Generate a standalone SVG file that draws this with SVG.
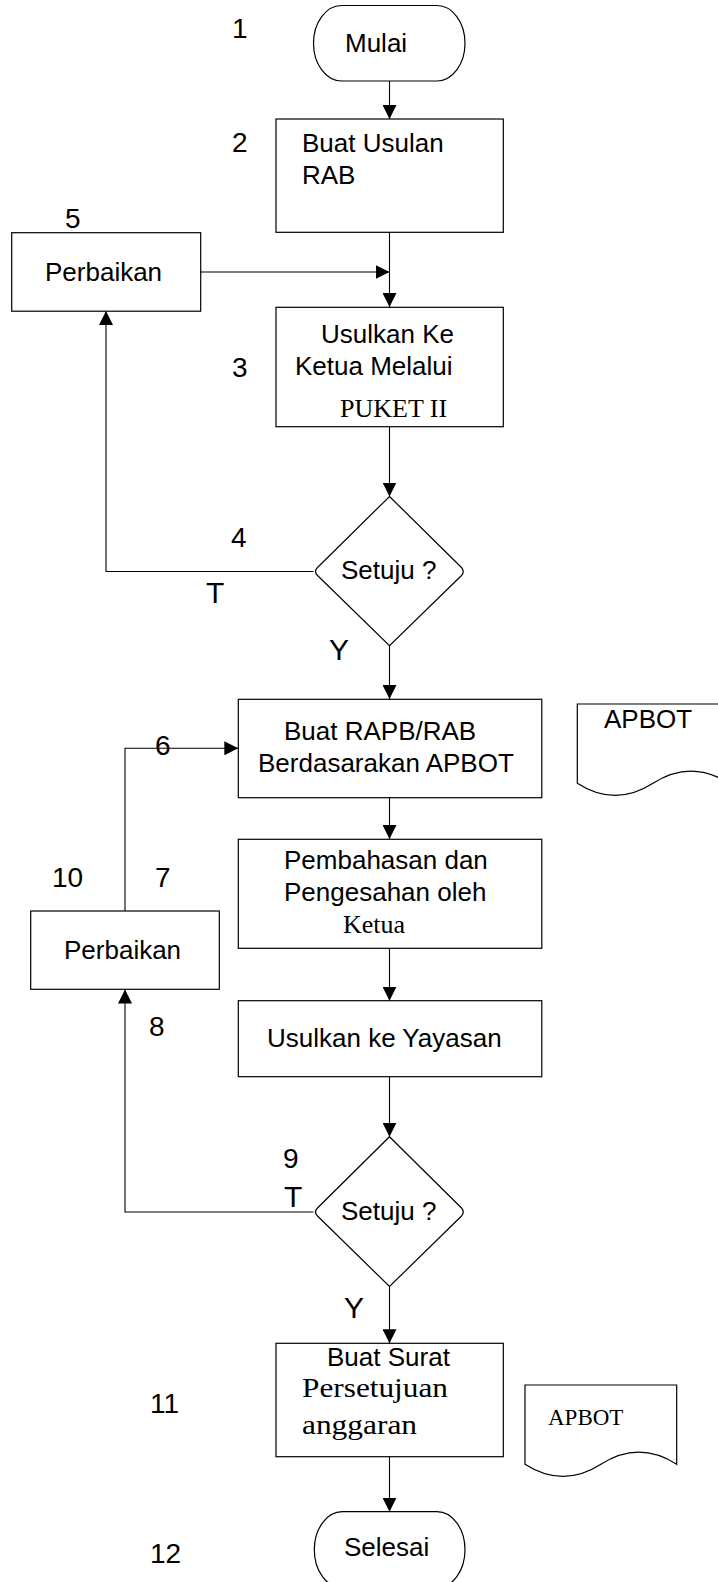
<svg xmlns="http://www.w3.org/2000/svg" width="718" height="1582" viewBox="0 0 718 1582">
<style>
.shape{fill:#fff;stroke:#000;stroke-width:1.2}
.line{fill:none;stroke:#000;stroke-width:1.1}
.t{font-family:"Liberation Sans",Arial,sans-serif;font-size:26px;fill:#000}
.s{font-family:"Liberation Serif","Times New Roman",serif;fill:#000}
.n{font-family:"Liberation Sans",Arial,sans-serif;font-size:28px;fill:#000}
.l{font-family:"Liberation Sans",Arial,sans-serif;font-size:30px;fill:#000}
</style>
<defs>
<marker id="arr" markerUnits="userSpaceOnUse" markerWidth="15" markerHeight="14" refX="14" refY="7" orient="auto">
<path d="M0,0 L14,7 L0,14 Z" fill="#000"/>
</marker>
</defs>
<rect width="718" height="1582" fill="#fff"/>

<g id="connectors">
<path class="line" d="M389.5,81 V119" marker-end="url(#arr)"/>
<path class="line" d="M389.5,232 V307" marker-end="url(#arr)"/>
<path class="line" d="M200.5,272 H389.5" marker-end="url(#arr)"/>
<path class="line" d="M389.5,427 V496.5" marker-end="url(#arr)"/>
<path class="line" d="M313.5,571.5 H106 V311" marker-end="url(#arr)"/>
<path class="line" d="M389.5,646 V699" marker-end="url(#arr)"/>
<path class="line" d="M389.5,798 V839" marker-end="url(#arr)"/>
<path class="line" d="M389.5,948 V1000.7" marker-end="url(#arr)"/>
<path class="line" d="M389.5,1077 V1136.7" marker-end="url(#arr)"/>
<path class="line" d="M313.5,1212 H125 V989.5" marker-end="url(#arr)"/>
<path class="line" d="M125,911 V748.3 H238.3" marker-end="url(#arr)"/>
<path class="line" d="M389.5,1286.5 V1343.3" marker-end="url(#arr)"/>
<path class="line" d="M389.5,1456.7 V1511.7" marker-end="url(#arr)"/>
</g>

<g id="n1">
<rect class="shape" x="313.5" y="5.5" width="151.5" height="75.5" rx="28" ry="37.75"/>
<text class="t" x="345" y="52">Mulai</text>
</g>
<g id="n2">
<rect class="shape" x="276" y="119" width="227.3" height="113.3"/>
<text class="t" x="302" y="152">Buat Usulan</text>
<text class="t" x="302" y="183.5">RAB</text>
</g>
<g id="n5">
<rect class="shape" x="11.7" y="232.7" width="189" height="78.5"/>
<text class="t" x="45" y="280.7">Perbaikan</text>
</g>
<g id="n3">
<rect class="shape" x="276" y="307.3" width="227.3" height="119.4"/>
<text class="t" x="321" y="343">Usulkan Ke</text>
<text class="t" x="295" y="375">Ketua Melalui</text>
<text class="s" x="340" y="416.7" font-size="26">PUKET II</text>
</g>
<g id="n4">
<path class="shape" d="M389.5,496.5 L461.5,567.5 Q465,571.5 461.5,575.5 L389.5,645.7 L317.5,575.5 Q313.5,571.5 317.5,567.5 Z"/>
<text class="t" x="341" y="579.3">Setuju ?</text>
</g>
<g id="n6">
<rect class="shape" x="238.3" y="699.3" width="303.5" height="98.4"/>
<text class="t" x="284" y="740">Buat RAPB/RAB</text>
<text class="t" x="258" y="771.7">Berdasarakan APBOT</text>
</g>
<g id="doc1">
<path class="shape" d="M577.3,704 H729 V783.3 Q691,759 653,783.3 Q615,807.6 577.3,783.3 Z"/>
<text class="t" x="604" y="728.3">APBOT</text>
</g>
<g id="n7">
<rect class="shape" x="238.3" y="839.3" width="303.5" height="109"/>
<text class="t" x="284" y="869.3">Pembahasan dan</text>
<text class="t" x="284" y="900.7">Pengesahan oleh</text>
<text class="s" x="343" y="932.7" font-size="26">Ketua</text>
</g>
<g id="n10">
<rect class="shape" x="30.7" y="911" width="188.6" height="78.3"/>
<text class="t" x="64" y="959.3">Perbaikan</text>
</g>
<g id="n8">
<rect class="shape" x="238.3" y="1000.7" width="303.5" height="76"/>
<text class="t" x="267" y="1046.7">Usulkan ke Yayasan</text>
</g>
<g id="n9">
<path class="shape" d="M389.5,1136.7 L461.5,1208 Q465,1212 461.5,1216 L389.5,1286.5 L317.5,1216 Q313.5,1212 317.5,1208 Z"/>
<text class="t" x="341" y="1220">Setuju ?</text>
</g>
<g id="n11">
<rect class="shape" x="276" y="1343.3" width="227.3" height="113.4"/>
<text class="t" x="327" y="1366">Buat Surat</text>
<text class="s" x="302" y="1396.7" font-size="28" textLength="146" lengthAdjust="spacingAndGlyphs">Persetujuan</text>
<text class="s" x="302" y="1434" font-size="28" textLength="115" lengthAdjust="spacingAndGlyphs">anggaran</text>
</g>
<g id="doc2">
<path class="shape" d="M525,1385 H676.7 V1464.3 Q638.8,1440 600.9,1464.3 Q563,1488.6 525,1464.3 Z"/>
<text class="s" x="548" y="1425" font-size="23">APBOT</text>
</g>
<g id="n12">
<rect class="shape" x="314.3" y="1511.7" width="150.7" height="76" rx="28" ry="38"/>
<text class="t" x="344" y="1556">Selesai</text>
</g>

<g id="labels">
<text class="n" x="232" y="38">1</text>
<text class="n" x="232" y="152">2</text>
<text class="n" x="232" y="376.7">3</text>
<text class="n" x="231" y="546.7">4</text>
<text class="n" x="65" y="228.3">5</text>
<text class="l" x="206" y="603">T</text>
<text class="l" x="329" y="660">Y</text>
<text class="n" x="155" y="755">6</text>
<text class="n" x="52" y="886.7">10</text>
<text class="n" x="155" y="886.7">7</text>
<text class="n" x="149" y="1036">8</text>
<text class="n" x="283" y="1168.3">9</text>
<text class="l" x="284" y="1206.7">T</text>
<text class="l" x="344" y="1318.3">Y</text>
<text class="n" x="150" y="1413.3">11</text>
<text class="n" x="150" y="1563.3">12</text>
</g>
</svg>
